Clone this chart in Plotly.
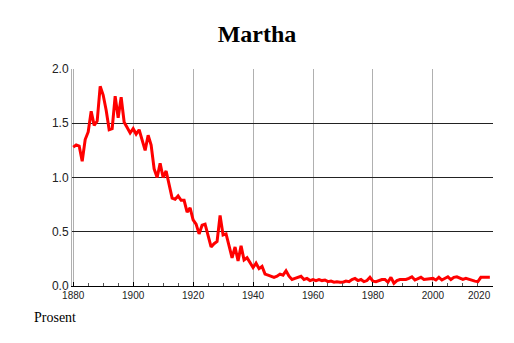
import plotly.graph_objects as go

years = list(range(1880, 2020))
values = [
    1.28, 1.30, 1.29, 1.15, 1.35, 1.42, 1.61, 1.48, 1.52, 1.84,
    1.76, 1.62, 1.44, 1.45, 1.75, 1.55, 1.74, 1.51, 1.46, 1.41,
    1.45, 1.40, 1.44, 1.34, 1.25, 1.39, 1.30, 1.08, 1.00, 1.13,
    1.00, 1.06, 0.93, 0.81, 0.80, 0.83, 0.79, 0.79, 0.68, 0.72,
    0.61, 0.57, 0.48, 0.56, 0.57, 0.45, 0.36, 0.39, 0.41, 0.65,
    0.47, 0.48, 0.36, 0.26, 0.36, 0.23, 0.37, 0.24, 0.26, 0.22,
    0.17, 0.21, 0.16, 0.18, 0.11, 0.10, 0.09, 0.08, 0.09, 0.11,
    0.10, 0.14, 0.09, 0.06, 0.07, 0.08, 0.09, 0.06, 0.07, 0.05,
    0.06, 0.05, 0.06, 0.05, 0.055, 0.04, 0.045, 0.035, 0.04, 0.035,
    0.035, 0.045, 0.04, 0.06, 0.07, 0.05, 0.06, 0.04, 0.05, 0.08,
    0.045, 0.04, 0.05, 0.06, 0.06, 0.035, 0.08, 0.025, 0.05, 0.06,
    0.06, 0.06, 0.07, 0.085, 0.055, 0.07, 0.08, 0.06, 0.065, 0.065,
    0.07, 0.055, 0.08, 0.055, 0.07, 0.085, 0.06, 0.08, 0.085, 0.07,
    0.06, 0.07, 0.06, 0.05, 0.045, 0.04, 0.08, 0.08, 0.08, 0.08,
]
x_ticks = [1880, 1900, 1920, 1940, 1960, 1980, 2000, 2020]
x_labels = ["1880", "1900", "1920", "1940", "1960", "1980", "2000", ""]
y_ticks = [0.0, 0.5, 1.0, 1.5, 2.0]
y_labels = ["0.0", "0.5", "1.0", "1.5", "2.0"]
title = "Martha"
unit = "Prosent"

fig = go.Figure()
fig.add_trace(go.Scatter(x=years, y=values, mode="lines",
                         line=dict(color="#ff0000", width=3), hoverinfo="skip"))

fig.update_layout(
    width=514, height=343,
    margin=dict(l=72, r=21, t=69, b=57),
    paper_bgcolor="white", plot_bgcolor="white",
    showlegend=False,
    title=dict(text="<b>" + title + "</b>", x=0.5, xref="container", xanchor="center",
               y=1 - 34 / 343, yref="container", yanchor="middle",
               font=dict(family="Liberation Serif", size=24, color="black")),
    xaxis=dict(range=[1879.6, 2020.05], tickvals=x_ticks, ticktext=x_labels,
               showgrid=True, gridcolor="#b0b0b0", gridwidth=1,
               showline=True, linecolor="black", linewidth=1,
               ticks="inside", ticklen=4, tickcolor="black",
               minor=dict(dtick=5, ticks="inside", ticklen=3, tickcolor="#555", showgrid=False),
               tickfont=dict(family="Liberation Sans", size=10, color="#222"),
               zeroline=False, fixedrange=True),
    yaxis=dict(range=[0, 2.0], tickvals=y_ticks, ticktext=y_labels,
               showgrid=True, gridcolor="#222", gridwidth=1,
               showline=True, linecolor="#b0b0b0", linewidth=1,
               ticks="", tickfont=dict(family="Liberation Sans", size=12, color="#222"),
               zeroline=False, fixedrange=True),
    annotations=[
        dict(text="2020", x=2020, y=0, xref="x", yref="y", xanchor="right", yanchor="top",
             yshift=-2, showarrow=False,
             font=dict(family="Liberation Sans", size=10, color="#222")),
        dict(text=unit, x=-0.0957, y=-0.147, xref="paper", yref="paper",
             xanchor="left", yanchor="middle", showarrow=False,
             font=dict(family="Liberation Serif", size=14, color="black")),
    ],
)

fig.write_html("out.html", config={"displayModeBar": False},
               post_script="document.body.style.margin='0';document.body.style.overflow='hidden';")
